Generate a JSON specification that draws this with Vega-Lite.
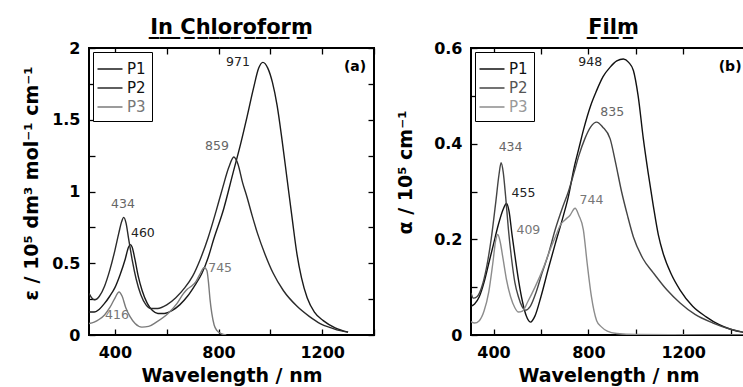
{
  "$schema": "https://vega.github.io/schema/vega-lite/v6.json",
  "padding": {"left": 21, "top": 16, "right": 0, "bottom": 0},
  "background": "white",
  "config": {
    "view": {"stroke": "black", "strokeWidth": 2},
    "font": "DejaVu Sans",
    "axis": {
      "grid": false, "domain": false, "zindex": 1,
      "tickColor": "black", "tickSize": -6, "tickWidth": 1.3,
      "labelFont": "DejaVu Sans", "labelFontWeight": "bold", "labelFontSize": 16, "labelColor": "black",
      "labelPadding": 15,
      "titleFont": "DejaVu Sans", "titleFontWeight": "bold", "titleFontSize": 19, "titleColor": "black", "titlePadding": 6
    },
    "title": {"font": "DejaVu Sans", "fontSize": 21, "fontWeight": "bold", "color": "black", "anchor": "middle", "offset": 2},
    "legend": {
      "orient": "top-left", "offset": 4, "strokeColor": "black", "strokeWidth": 1, "padding": 6,
      "symbolType": "M-1.25,0H1.25", "symbolSize": 400, "symbolStrokeWidth": 1.5,
      "labelFont": "DejaVu Sans", "labelFontSize": 15, "rowPadding": 0, "labelOffset": 6,
      "fillColor": "white"
    }
  },
  "datasets": {
    "chcl3": [
      {"s":"P1","wl":300,"v":0.16},{"s":"P1","wl":320,"v":0.16},{"s":"P1","wl":340,"v":0.18},{"s":"P1","wl":360,"v":0.22},{"s":"P1","wl":380,"v":0.27},{"s":"P1","wl":400,"v":0.33},{"s":"P1","wl":420,"v":0.42},{"s":"P1","wl":440,"v":0.53},{"s":"P1","wl":452,"v":0.61},{"s":"P1","wl":460,"v":0.63},{"s":"P1","wl":467,"v":0.61},{"s":"P1","wl":477,"v":0.53},{"s":"P1","wl":490,"v":0.41},{"s":"P1","wl":505,"v":0.31},{"s":"P1","wl":525,"v":0.22},{"s":"P1","wl":545,"v":0.17},{"s":"P1","wl":566,"v":0.15},{"s":"P1","wl":590,"v":0.15},{"s":"P1","wl":620,"v":0.17},{"s":"P1","wl":650,"v":0.21},{"s":"P1","wl":680,"v":0.27},{"s":"P1","wl":710,"v":0.35},{"s":"P1","wl":736,"v":0.43},{"s":"P1","wl":760,"v":0.54},{"s":"P1","wl":780,"v":0.66},{"s":"P1","wl":820,"v":0.88},{"s":"P1","wl":856,"v":1.13},{"s":"P1","wl":885,"v":1.33},{"s":"P1","wl":910,"v":1.52},{"s":"P1","wl":935,"v":1.72},{"s":"P1","wl":955,"v":1.86},{"s":"P1","wl":971,"v":1.90},{"s":"P1","wl":990,"v":1.86},{"s":"P1","wl":1008,"v":1.76},{"s":"P1","wl":1026,"v":1.60},{"s":"P1","wl":1045,"v":1.36},{"s":"P1","wl":1065,"v":1.08},{"s":"P1","wl":1085,"v":0.80},{"s":"P1","wl":1103,"v":0.56},{"s":"P1","wl":1120,"v":0.40},{"s":"P1","wl":1142,"v":0.26},{"s":"P1","wl":1170,"v":0.16},{"s":"P1","wl":1204,"v":0.10},{"s":"P1","wl":1250,"v":0.05},{"s":"P1","wl":1300,"v":0.02},
      {"s":"P2","wl":300,"v":0.29},{"s":"P2","wl":310,"v":0.26},{"s":"P2","wl":322,"v":0.245},{"s":"P2","wl":340,"v":0.27},{"s":"P2","wl":360,"v":0.34},{"s":"P2","wl":380,"v":0.45},{"s":"P2","wl":400,"v":0.59},{"s":"P2","wl":415,"v":0.71},{"s":"P2","wl":426,"v":0.79},{"s":"P2","wl":434,"v":0.82},{"s":"P2","wl":443,"v":0.78},{"s":"P2","wl":453,"v":0.67},{"s":"P2","wl":467,"v":0.52},{"s":"P2","wl":482,"v":0.39},{"s":"P2","wl":500,"v":0.28},{"s":"P2","wl":520,"v":0.21},{"s":"P2","wl":540,"v":0.185},{"s":"P2","wl":565,"v":0.185},{"s":"P2","wl":600,"v":0.21},{"s":"P2","wl":635,"v":0.26},{"s":"P2","wl":670,"v":0.33},{"s":"P2","wl":700,"v":0.41},{"s":"P2","wl":730,"v":0.53},{"s":"P2","wl":760,"v":0.68},{"s":"P2","wl":790,"v":0.86},{"s":"P2","wl":815,"v":1.02},{"s":"P2","wl":840,"v":1.17},{"s":"P2","wl":859,"v":1.24},{"s":"P2","wl":875,"v":1.19},{"s":"P2","wl":893,"v":1.06},{"s":"P2","wl":910,"v":0.96},{"s":"P2","wl":930,"v":0.83},{"s":"P2","wl":950,"v":0.71},{"s":"P2","wl":980,"v":0.56},{"s":"P2","wl":1011,"v":0.43},{"s":"P2","wl":1050,"v":0.31},{"s":"P2","wl":1103,"v":0.20},{"s":"P2","wl":1150,"v":0.13},{"s":"P2","wl":1192,"v":0.08},{"s":"P2","wl":1235,"v":0.05},{"s":"P2","wl":1270,"v":0.03},{"s":"P2","wl":1300,"v":0.02},
      {"s":"P3","wl":300,"v":0.08},{"s":"P3","wl":320,"v":0.09},{"s":"P3","wl":340,"v":0.11},{"s":"P3","wl":360,"v":0.14},{"s":"P3","wl":380,"v":0.19},{"s":"P3","wl":398,"v":0.25},{"s":"P3","wl":416,"v":0.30},{"s":"P3","wl":428,"v":0.27},{"s":"P3","wl":442,"v":0.19},{"s":"P3","wl":458,"v":0.13},{"s":"P3","wl":478,"v":0.08},{"s":"P3","wl":504,"v":0.055},{"s":"P3","wl":530,"v":0.06},{"s":"P3","wl":560,"v":0.09},{"s":"P3","wl":605,"v":0.15},{"s":"P3","wl":640,"v":0.22},{"s":"P3","wl":665,"v":0.29},{"s":"P3","wl":680,"v":0.32},{"s":"P3","wl":695,"v":0.34},{"s":"P3","wl":712,"v":0.37},{"s":"P3","wl":730,"v":0.43},{"s":"P3","wl":745,"v":0.47},{"s":"P3","wl":755,"v":0.45},{"s":"P3","wl":761,"v":0.37},{"s":"P3","wl":767,"v":0.25},{"s":"P3","wl":774,"v":0.15},{"s":"P3","wl":783,"v":0.07},{"s":"P3","wl":794,"v":0.03},{"s":"P3","wl":810,"v":0.01},{"s":"P3","wl":830,"v":0.0}
    ],
    "film": [
      {"s":"P1","wl":305,"v":0.06},{"s":"P1","wl":320,"v":0.065},{"s":"P1","wl":340,"v":0.08},{"s":"P1","wl":360,"v":0.11},{"s":"P1","wl":380,"v":0.15},{"s":"P1","wl":400,"v":0.19},{"s":"P1","wl":420,"v":0.23},{"s":"P1","wl":440,"v":0.262},{"s":"P1","wl":455,"v":0.275},{"s":"P1","wl":465,"v":0.26},{"s":"P1","wl":478,"v":0.21},{"s":"P1","wl":492,"v":0.16},{"s":"P1","wl":507,"v":0.11},{"s":"P1","wl":522,"v":0.07},{"s":"P1","wl":538,"v":0.04},{"s":"P1","wl":556,"v":0.027},{"s":"P1","wl":575,"v":0.04},{"s":"P1","wl":600,"v":0.08},{"s":"P1","wl":632,"v":0.14},{"s":"P1","wl":660,"v":0.19},{"s":"P1","wl":695,"v":0.25},{"s":"P1","wl":716,"v":0.29},{"s":"P1","wl":740,"v":0.35},{"s":"P1","wl":760,"v":0.39},{"s":"P1","wl":780,"v":0.43},{"s":"P1","wl":810,"v":0.48},{"s":"P1","wl":834,"v":0.51},{"s":"P1","wl":862,"v":0.54},{"s":"P1","wl":892,"v":0.56},{"s":"P1","wl":920,"v":0.573},{"s":"P1","wl":948,"v":0.577},{"s":"P1","wl":970,"v":0.57},{"s":"P1","wl":990,"v":0.553},{"s":"P1","wl":1010,"v":0.50},{"s":"P1","wl":1032,"v":0.41},{"s":"P1","wl":1052,"v":0.34},{"s":"P1","wl":1074,"v":0.27},{"s":"P1","wl":1095,"v":0.21},{"s":"P1","wl":1116,"v":0.17},{"s":"P1","wl":1150,"v":0.127},{"s":"P1","wl":1187,"v":0.094},{"s":"P1","wl":1240,"v":0.06},{"s":"P1","wl":1297,"v":0.038},{"s":"P1","wl":1350,"v":0.022},{"s":"P1","wl":1400,"v":0.012},{"s":"P1","wl":1450,"v":0.006},{"s":"P1","wl":1465,"v":0.005},
      {"s":"P2","wl":305,"v":0.088},{"s":"P2","wl":315,"v":0.077},{"s":"P2","wl":330,"v":0.08},{"s":"P2","wl":350,"v":0.10},{"s":"P2","wl":370,"v":0.14},{"s":"P2","wl":390,"v":0.20},{"s":"P2","wl":410,"v":0.28},{"s":"P2","wl":423,"v":0.335},{"s":"P2","wl":432,"v":0.36},{"s":"P2","wl":441,"v":0.34},{"s":"P2","wl":451,"v":0.29},{"s":"P2","wl":463,"v":0.22},{"s":"P2","wl":476,"v":0.16},{"s":"P2","wl":490,"v":0.11},{"s":"P2","wl":505,"v":0.08},{"s":"P2","wl":520,"v":0.06},{"s":"P2","wl":535,"v":0.052},{"s":"P2","wl":555,"v":0.06},{"s":"P2","wl":580,"v":0.09},{"s":"P2","wl":605,"v":0.13},{"s":"P2","wl":632,"v":0.17},{"s":"P2","wl":660,"v":0.22},{"s":"P2","wl":690,"v":0.265},{"s":"P2","wl":716,"v":0.30},{"s":"P2","wl":740,"v":0.34},{"s":"P2","wl":760,"v":0.375},{"s":"P2","wl":785,"v":0.41},{"s":"P2","wl":810,"v":0.435},{"s":"P2","wl":835,"v":0.445},{"s":"P2","wl":860,"v":0.435},{"s":"P2","wl":892,"v":0.41},{"s":"P2","wl":915,"v":0.36},{"s":"P2","wl":940,"v":0.30},{"s":"P2","wl":965,"v":0.25},{"s":"P2","wl":990,"v":0.205},{"s":"P2","wl":1030,"v":0.16},{"s":"P2","wl":1074,"v":0.13},{"s":"P2","wl":1130,"v":0.095},{"s":"P2","wl":1187,"v":0.067},{"s":"P2","wl":1250,"v":0.043},{"s":"P2","wl":1326,"v":0.025},{"s":"P2","wl":1400,"v":0.012},{"s":"P2","wl":1453,"v":0.006},{"s":"P2","wl":1465,"v":0.005},
      {"s":"P3","wl":305,"v":0.028},{"s":"P3","wl":320,"v":0.025},{"s":"P3","wl":340,"v":0.03},{"s":"P3","wl":360,"v":0.05},{"s":"P3","wl":380,"v":0.09},{"s":"P3","wl":397,"v":0.15},{"s":"P3","wl":410,"v":0.2},{"s":"P3","wl":418,"v":0.21},{"s":"P3","wl":428,"v":0.195},{"s":"P3","wl":440,"v":0.16},{"s":"P3","wl":455,"v":0.115},{"s":"P3","wl":472,"v":0.08},{"s":"P3","wl":490,"v":0.057},{"s":"P3","wl":505,"v":0.048},{"s":"P3","wl":522,"v":0.05},{"s":"P3","wl":545,"v":0.07},{"s":"P3","wl":575,"v":0.10},{"s":"P3","wl":610,"v":0.14},{"s":"P3","wl":640,"v":0.18},{"s":"P3","wl":665,"v":0.21},{"s":"P3","wl":682,"v":0.23},{"s":"P3","wl":700,"v":0.24},{"s":"P3","wl":722,"v":0.25},{"s":"P3","wl":744,"v":0.265},{"s":"P3","wl":760,"v":0.25},{"s":"P3","wl":779,"v":0.22},{"s":"P3","wl":795,"v":0.15},{"s":"P3","wl":813,"v":0.08},{"s":"P3","wl":835,"v":0.03},{"s":"P3","wl":855,"v":0.017},{"s":"P3","wl":880,"v":0.008},{"s":"P3","wl":920,"v":0.003},{"s":"P3","wl":1000,"v":0.001},{"s":"P3","wl":1465,"v":0.0}
    ],
    "lab_a": [
      {"s":"P1","wl":875,"v":1.90,"t":"971"},{"s":"P1","wl":508,"v":0.71,"t":"460"},
      {"s":"P2","wl":794,"v":1.32,"t":"859"},{"s":"P2","wl":431,"v":0.91,"t":"434"},
      {"s":"P3","wl":806,"v":0.47,"t":"745"},{"s":"P3","wl":408,"v":0.14,"t":"416"},
      {"s":"tag","wl":1327,"v":1.87,"t":"(a)"}
    ],
    "lab_b": [
      {"s":"P1","wl":808,"v":0.571,"t":"948"},{"s":"P1","wl":526,"v":0.297,"t":"455"},
      {"s":"P2","wl":901,"v":0.466,"t":"835"},{"s":"P2","wl":472,"v":0.393,"t":"434"},
      {"s":"P3","wl":547,"v":0.22,"t":"409"},{"s":"P3","wl":813,"v":0.282,"t":"744"},
      {"s":"tag","wl":1398,"v":0.56,"t":"(b)"}
    ]
  },
  "spacing": 19,
  "resolve": {"scale": {"x": "independent", "y": "independent", "color": "independent", "fill": "independent"}, "legend": {"color": "independent"}},
  "hconcat": [
    {
      "width": 285, "height": 287,
      "title": {"text": "I\u0332n\u0332 \u0332C\u0332h\u0332l\u0332o\u0332r\u0332o\u0332f\u0332o\u0332r\u0332m\u0332"},
      "layer": [
        {
          "data": {"name": "chcl3"},
          "mark": {"type": "line", "strokeWidth": 1.4, "interpolate": "monotone", "clip": true},
          "encoding": {
            "x": {"field": "wl", "type": "quantitative", "scale": {"domain": [300, 1400], "nice": false},
                  "axis": {"orient": "bottom", "values": [400, 600, 800, 1000, 1200, 1400], "format": "d", "labelExpr": "datum.value % 400 == 0 ? datum.label : ''", "title": "Wavelength / nm"}},
            "y": {"field": "v", "type": "quantitative", "scale": {"domain": [0, 2], "nice": false},
                  "axis": {"orient": "left", "values": [0, 0.25, 0.5, 0.75, 1, 1.25, 1.5, 1.75, 2], "format": "~g", "labelExpr": "(datum.value * 4) % 2 == 0 ? datum.label : ''", "title": "ε / 10⁵ dm³ mol⁻¹ cm⁻¹", "titlePadding": 10, "titleY": 135}},
            "color": {"field": "s", "type": "nominal", "scale": {"domain": ["P1", "P2", "P3"], "range": ["#1a1a1a", "#2a2a2a", "#7a7a7a"]},
                      "legend": {"title": null, "labelColor": {"expr": "datum.value == 'P3' ? '#777777' : '#111111'"}}}
          }
        },
        {
          "data": {"name": "lab_a"},
          "mark": {"type": "text", "fontSize": {"expr": "datum.s == 'tag' ? 14 : 12.5"}, "fontWeight": {"expr": "datum.s == 'tag' ? 'bold' : 'normal'"}, "align": "center", "baseline": "middle"},
          "encoding": {
            "x": {"field": "wl", "type": "quantitative", "axis": {"orient": "top", "values": [400, 600, 800, 1000, 1200, 1400], "labels": false, "title": null}},
            "y": {"field": "v", "type": "quantitative", "axis": {"orient": "right", "values": [0, 0.25, 0.5, 0.75, 1, 1.25, 1.5, 1.75, 2], "labels": false, "title": null}},
            "fill": {"field": "s", "type": "nominal", "scale": {"domain": ["P1", "P2", "P3", "tag"], "range": ["#222222", "#666666", "#777777", "#000000"]}, "legend": null},
            "text": {"field": "t"}
          }
        }
      ]
    },
    {
      "width": 275, "height": 287,
      "title": {"text": "F\u0332i\u0332l\u0332m\u0332", "dx": 5},
      "layer": [
        {
          "data": {"name": "film"},
          "mark": {"type": "line", "strokeWidth": 1.4, "interpolate": "monotone", "clip": true},
          "encoding": {
            "x": {"field": "wl", "type": "quantitative", "scale": {"domain": [305, 1465], "nice": false},
                  "axis": {"orient": "bottom", "values": [400, 600, 800, 1000, 1200, 1400], "format": "d", "labelExpr": "datum.value % 400 == 0 ? datum.label : ''", "title": "Wavelength / nm"}},
            "y": {"field": "v", "type": "quantitative", "scale": {"domain": [0, 0.6], "nice": false},
                  "axis": {"orient": "left", "values": [0, 0.1, 0.2, 0.3, 0.4, 0.5, 0.6], "format": "~g", "labelExpr": "round(datum.value * 10) % 2 == 0 ? datum.label : ''", "title": "α / 10⁵ cm⁻¹", "titlePadding": 18, "titleY": 124}},
            "color": {"field": "s", "type": "nominal", "scale": {"domain": ["P1", "P2", "P3"], "range": ["#111111", "#444444", "#8c8c8c"]},
                      "legend": {"title": null, "labelColor": {"expr": "datum.value == 'P1' ? '#111111' : (datum.value == 'P2' ? '#555555' : '#999999')"}}}
          }
        },
        {
          "data": {"name": "lab_b"},
          "mark": {"type": "text", "fontSize": {"expr": "datum.s == 'tag' ? 14 : 12.5"}, "fontWeight": {"expr": "datum.s == 'tag' ? 'bold' : 'normal'"}, "align": "center", "baseline": "middle"},
          "encoding": {
            "x": {"field": "wl", "type": "quantitative", "axis": {"orient": "top", "values": [400, 600, 800, 1000, 1200], "labels": false, "title": null}},
            "y": {"field": "v", "type": "quantitative", "axis": {"orient": "right", "ticks": false, "labels": false, "title": null}},
            "fill": {"field": "s", "type": "nominal", "scale": {"domain": ["P1", "P2", "P3", "tag"], "range": ["#222222", "#666666", "#777777", "#000000"]}, "legend": null},
            "text": {"field": "t"}
          }
        }
      ]
    }
  ]
}
